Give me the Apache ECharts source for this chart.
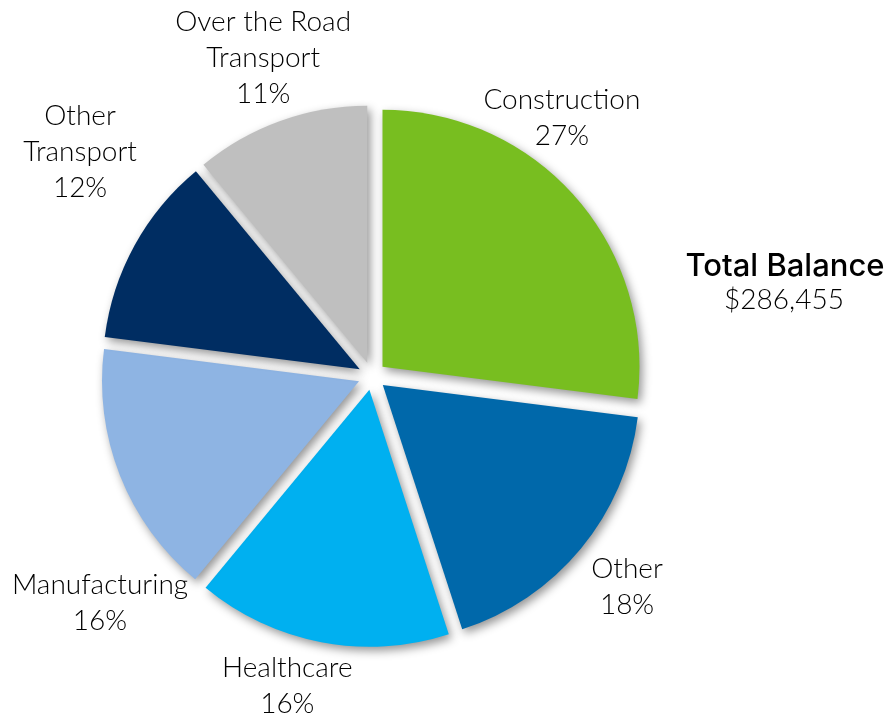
<!DOCTYPE html>
<html>
<head>
<meta charset="utf-8">
<script src="https://cdn.jsdelivr.net/npm/echarts@6/dist/echarts.min.js"></script>
<style>
  html, body { margin: 0; padding: 0; background: #ffffff; }
  #chart { width: 893px; height: 717px; }
</style>
</head>
<body>
<div id="chart"></div>
<script>
// Portfolio balance by industry (share of total, %)
const categories = [
  'Construction',
  'Other',
  'Healthcare',
  'Manufacturing',
  'Other\nTransport',
  'Over the Road\nTransport'
];
const shares = [27, 18, 16, 16, 12, 11];
const sliceColors = ['#78BE20', '#0068AA', '#00B0F0', '#8EB4E3', '#002D62', '#BFBFBF'];
const totalTitle = 'Total Balance';
const totalValue = '$286,455';

// Pie geometry (pixels)
const CX = 372, CY = 376, R = 257;

// Where each label block sits: polar angle (deg, counter-clockwise from east) and distance from centre
const labelPolar = [
  [53.6, 320],
  [-39.6, 331],
  [-105.3, 321],
  [-140.2, 354],
  [142.5, 368],
  [108.9, 336]
];

const labelFont = { fontFamily: 'Lato', fontWeight: 300, fontSize: 28 };

const sliceShadow = {
  borderWidth: 0,
  shadowBlur: 10,
  shadowOffsetX: 3,
  shadowOffsetY: 4,
  shadowColor: 'rgba(0,0,0,0.42)'
};

const chart = echarts.init(document.getElementById('chart'), null, { renderer: 'canvas' });

chart.setOption({
  animation: false,
  backgroundColor: '#ffffff',
  graphic: [
    {
      type: 'text',
      x: 785,
      y: 251,
      style: {
        text: totalTitle,
        align: 'center',
        verticalAlign: 'top',
        fontFamily: 'Inter',
        fontWeight: 500,
        fontSize: 31,
        fill: '#000000'
      }
    },
    {
      type: 'text',
      x: 784,
      y: 286,
      style: Object.assign({
        text: totalValue,
        align: 'center',
        verticalAlign: 'top',
        fill: '#000000'
      }, labelFont)
    }
  ],
  series: [
    {
      // exploded slices
      type: 'pie',
      center: [CX, CY],
      radius: [0, R],
      startAngle: 90,
      clockwise: true,
      selectedMode: 'multiple',
      selectedOffset: 14,
      data: categories.map((name, i) => ({
        name: name,
        value: shares[i],
        selected: true,
        itemStyle: { color: sliceColors[i] }
      })),
      itemStyle: sliceShadow,
      select: { itemStyle: sliceShadow },
      emphasis: { disabled: true },
      label: { show: false },
      labelLine: { show: false }
    },
    {
      // category labels, carried by an unfilled copy of the same pie
      type: 'pie',
      silent: true,
      center: [CX, CY],
      radius: [0, R],
      startAngle: 90,
      clockwise: true,
      avoidLabelOverlap: false,
      data: categories.map((name, i) => ({ name: name, value: shares[i] })),
      itemStyle: { color: 'rgba(0,0,0,0)', borderWidth: 0 },
      emphasis: { disabled: true },
      label: Object.assign({
        show: true,
        position: 'outside',
        overflow: 'none',
        formatter: p => p.name + '\n' + Math.round(p.percent) + '%',
        lineHeight: 36,
        color: '#000000'
      }, labelFont),
      labelLine: { show: false },
      labelLayout: function (params) {
        const pol = labelPolar[params.dataIndex];
        const a = pol[0] * Math.PI / 180;
        return {
          x: CX + pol[1] * Math.cos(a),
          y: CY - pol[1] * Math.sin(a),
          align: 'center',
          verticalAlign: 'middle'
        };
      }
    }
  ]
});
</script>
</body>
</html>
